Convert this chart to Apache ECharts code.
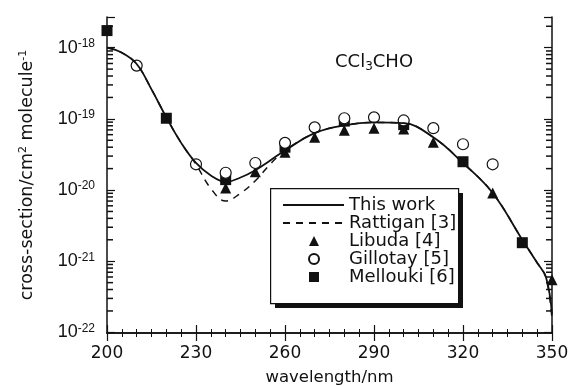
<!DOCTYPE html>
<html>
<head>
<meta charset="utf-8">
<script src="https://cdn.jsdelivr.net/npm/echarts@6/dist/echarts.min.js"></script>
<style>
html, body { margin: 0; padding: 0; background: #fff; }
#chart { width: 573px; height: 386px; }
</style>
</head>
<body>
<div id="chart"></div>
<script>
// wavelength grid for the two curves (nm)
var wl_curve = [200, 205, 210, 215, 220, 225, 230, 235, 240, 245, 250, 255, 260, 270, 280, 290, 300, 310, 320, 330, 340, 345, 348, 350];
var this_work = [1.0e-18, 8.5e-19, 5.9e-19, 2.6e-19, 1.05e-19, 4.6e-20, 2.4e-20, 1.6e-20, 1.3e-20, 1.5e-20, 1.9e-20, 2.6e-20, 3.6e-20, 6.3e-20, 8.1e-20, 8.9e-20, 8.7e-20, 5.5e-20, 2.4e-20, 9.1e-21, 2.0e-21, 9.5e-22, 5.9e-22, 1.8e-22];
var rattigan = [1.0e-18, 8.5e-19, 5.9e-19, 2.6e-19, 1.05e-19, 4.6e-20, 2.3e-20, 1.05e-20, 7.0e-21, 9.0e-21, 1.35e-20, 2.3e-20, 3.6e-20, 6.3e-20, 8.1e-20, 8.9e-20, 8.7e-20, 5.5e-20, 2.4e-20, 9.1e-21, 2.0e-21, 9.5e-22, 5.9e-22, 1.5e-22];

var wl_libuda = [240, 250, 260, 270, 280, 290, 300, 310, 330, 350];
var libuda = [1.07e-20, 1.8e-20, 3.4e-20, 5.5e-20, 6.9e-20, 7.4e-20, 7.2e-20, 4.7e-20, 9.1e-21, 5.5e-22];

var wl_gillotay = [210, 230, 240, 250, 260, 270, 280, 290, 300, 310, 320, 330];
var gillotay = [5.6e-19, 2.3e-20, 1.75e-20, 2.4e-20, 4.6e-20, 7.6e-20, 1.02e-19, 1.05e-19, 9.5e-20, 7.4e-20, 4.4e-20, 2.3e-20];

var wl_mellouki = [200, 220, 240, 260, 280, 300, 320, 340];
var mellouki = [1.74e-18, 1.02e-19, 1.4e-20, 4.0e-20, 9.3e-20, 8.3e-20, 2.5e-20, 1.82e-21];

var y_min = 0.98e-22;
var y_max = 2.7e-18;
var minor_exp = [-22, -21, -20, -19, -18];
var minor_mult = [2, 3, 4, 5, 6, 7, 8, 9];

function pairs(xs, ys) {
    var out = [];
    for (var i = 0; i < xs.length; i++) {
        out.push([xs[i], ys[i]]);
    }
    return out;
}

// minor log ticks (2..9 x 10^n) for both frame sides
var minor_left = [];
var minor_right = [];
minor_exp.forEach(function (e) {
    minor_mult.forEach(function (m) {
        var v = m * Math.pow(10, e);
        if (v < y_max) {
            minor_left.push([200, v]);
            minor_right.push([350, v]);
        }
    });
});

var font = 'DejaVu Sans';
var ink = '#111';

var chart = echarts.init(document.getElementById('chart'));

var baseY = {
    min: y_min,
    max: y_max,
    type: 'log',
    logBase: 10,
    splitNumber: 5,
    splitLine: {show: false},
    axisLine: {show: true, lineStyle: {color: ink, width: 1.5}},
    axisTick: {show: true, inside: true, length: 8, lineStyle: {color: ink, width: 1.2}}
};

chart.setOption({
    animation: false,
    backgroundColor: '#fff',
    grid: {left: 107, right: 21, top: 17, bottom: 53, containLabel: false, outerBoundsMode: 'none'},
    title: {
        text: 'CCl{sub|3}CHO',
        left: 330,
        top: 46,
        textStyle: {
            fontFamily: font,
            fontSize: 18,
            fontWeight: 'normal',
            color: ink,
            rich: {
                sub: {fontFamily: font, fontSize: 12, color: ink, verticalAlign: 'bottom', padding: [10, 0, 0, 0]}
            }
        }
    },
    // legend frame with its heavy drop shadow
    graphic: [
        {type: 'rect', left: 275, top: 193, shape: {width: 188, height: 115}, style: {fill: ink}, z: 10},
        {type: 'rect', left: 270, top: 188, shape: {width: 188, height: 115}, style: {fill: '#fff', stroke: ink, lineWidth: 1.2}, z: 11}
    ],
    legend: [
        {
            orient: 'vertical',
            left: 282,
            top: 196,
            padding: 0,
            itemGap: 0,
            itemWidth: 61,
            itemHeight: 14,
            z: 20,
            textStyle: {fontFamily: font, fontSize: 18, color: ink, lineHeight: 18},
            data: [
                {name: 'This work', itemStyle: {opacity: 0}},
                {name: 'Rattigan [3]', itemStyle: {opacity: 0}}
            ]
        },
        {
            orient: 'vertical',
            left: 308,
            top: 232,
            padding: 0,
            itemGap: 0,
            itemWidth: 10,
            itemHeight: 10,
            z: 20,
            textStyle: {fontFamily: font, fontSize: 18, color: ink, lineHeight: 18, padding: [0, 0, 0, 25]},
            data: ['Libuda [4]', 'Gillotay [5]', 'Mellouki [6]']
        }
    ],
    xAxis: [
        {
            type: 'value',
            min: 200,
            max: 350,
            interval: 30,
            name: 'wavelength/nm',
            nameLocation: 'middle',
            nameGap: 36,
            nameTextStyle: {fontFamily: font, fontSize: 16.5, color: ink},
            splitLine: {show: false},
            axisLine: {show: true, lineStyle: {color: ink, width: 1.5}},
            axisTick: {show: true, inside: true, length: 8, lineStyle: {color: ink, width: 1.2}},
            minorTick: {show: true, splitNumber: 6, length: 4, lineStyle: {color: ink, width: 1}},
            axisLabel: {fontFamily: font, fontSize: 17, color: ink, margin: 12}
        },
        {
            type: 'value',
            position: 'top',
            min: 200,
            max: 350,
            interval: 30,
            splitLine: {show: false},
            axisLine: {show: true, lineStyle: {color: ink, width: 1.5}},
            axisTick: {show: true, inside: true, length: 8, lineStyle: {color: ink, width: 1.2}},
            minorTick: {show: true, splitNumber: 6, length: 4, lineStyle: {color: ink, width: 1}},
            axisLabel: {show: false}
        }
    ],
    yAxis: [
        Object.assign({}, baseY, {
            position: 'left',
            name: 'cross-section/cm{sup|2} molecule{sup|-1}',
            nameLocation: 'middle',
            nameGap: 70,
            nameMoveOverlap: false,
            nameTextStyle: {
                fontFamily: font,
                fontSize: 17.5,
                color: ink,
                rich: {
                    sup: {fontFamily: font, fontSize: 11, color: ink, verticalAlign: 'top', padding: [0, 0, 8, 0]}
                }
            },
            axisLabel: {
                fontFamily: 'Liberation Sans',
                fontSize: 18,
                color: ink,
                margin: 12,
                showMinLabel: true,
                hideOverlap: false,
                formatter: function (v) {
                    var e = Math.log10(v);
                    if (Math.abs(e - Math.round(e)) > 1e-3) return '';
                    return '10{sup|' + Math.round(e) + '}';
                },
                rich: {
                    sup: {fontFamily: 'Liberation Sans', fontSize: 12, color: ink, verticalAlign: 'top', padding: [0, 0, 8, 0]}
                }
            }
        }),
        Object.assign({}, baseY, {position: 'right', axisLabel: {show: false}})
    ],
    series: [
        {
            name: 'Rattigan [3]',
            type: 'line',
            smooth: 0.4,
            symbol: 'none',
            data: pairs(wl_curve, rattigan),
            lineStyle: {color: ink, width: 1.5, type: [7, 6]},
            itemStyle: {color: ink}
        },
        {
            name: 'This work',
            type: 'line',
            smooth: 0.4,
            symbol: 'none',
            data: pairs(wl_curve, this_work),
            lineStyle: {color: ink, width: 1.8},
            itemStyle: {color: ink}
        },
        {
            name: 'Mellouki [6]',
            type: 'scatter',
            symbol: 'rect',
            symbolSize: 11,
            data: pairs(wl_mellouki, mellouki),
            itemStyle: {color: ink, opacity: 1}
        },
        {
            name: 'Libuda [4]',
            type: 'scatter',
            symbol: 'triangle',
            symbolSize: 11,
            data: pairs(wl_libuda, libuda),
            itemStyle: {color: ink, opacity: 1}
        },
        {
            name: 'Gillotay [5]',
            type: 'scatter',
            symbol: 'circle',
            symbolSize: 11,
            data: pairs(wl_gillotay, gillotay),
            itemStyle: {color: '#fff', borderColor: ink, borderWidth: 1.2, opacity: 1}
        },
        {
            name: 'y minor left',
            type: 'scatter',
            symbol: 'rect',
            symbolSize: [6, 1.5],
            symbolOffset: [3, 0],
            data: minor_left,
            itemStyle: {color: ink, opacity: 1}
        },
        {
            name: 'y minor right',
            type: 'scatter',
            symbol: 'rect',
            symbolSize: [6, 1.5],
            symbolOffset: [-3, 0],
            data: minor_right,
            itemStyle: {color: ink, opacity: 1}
        }
    ]
});
</script>
</body>
</html>
